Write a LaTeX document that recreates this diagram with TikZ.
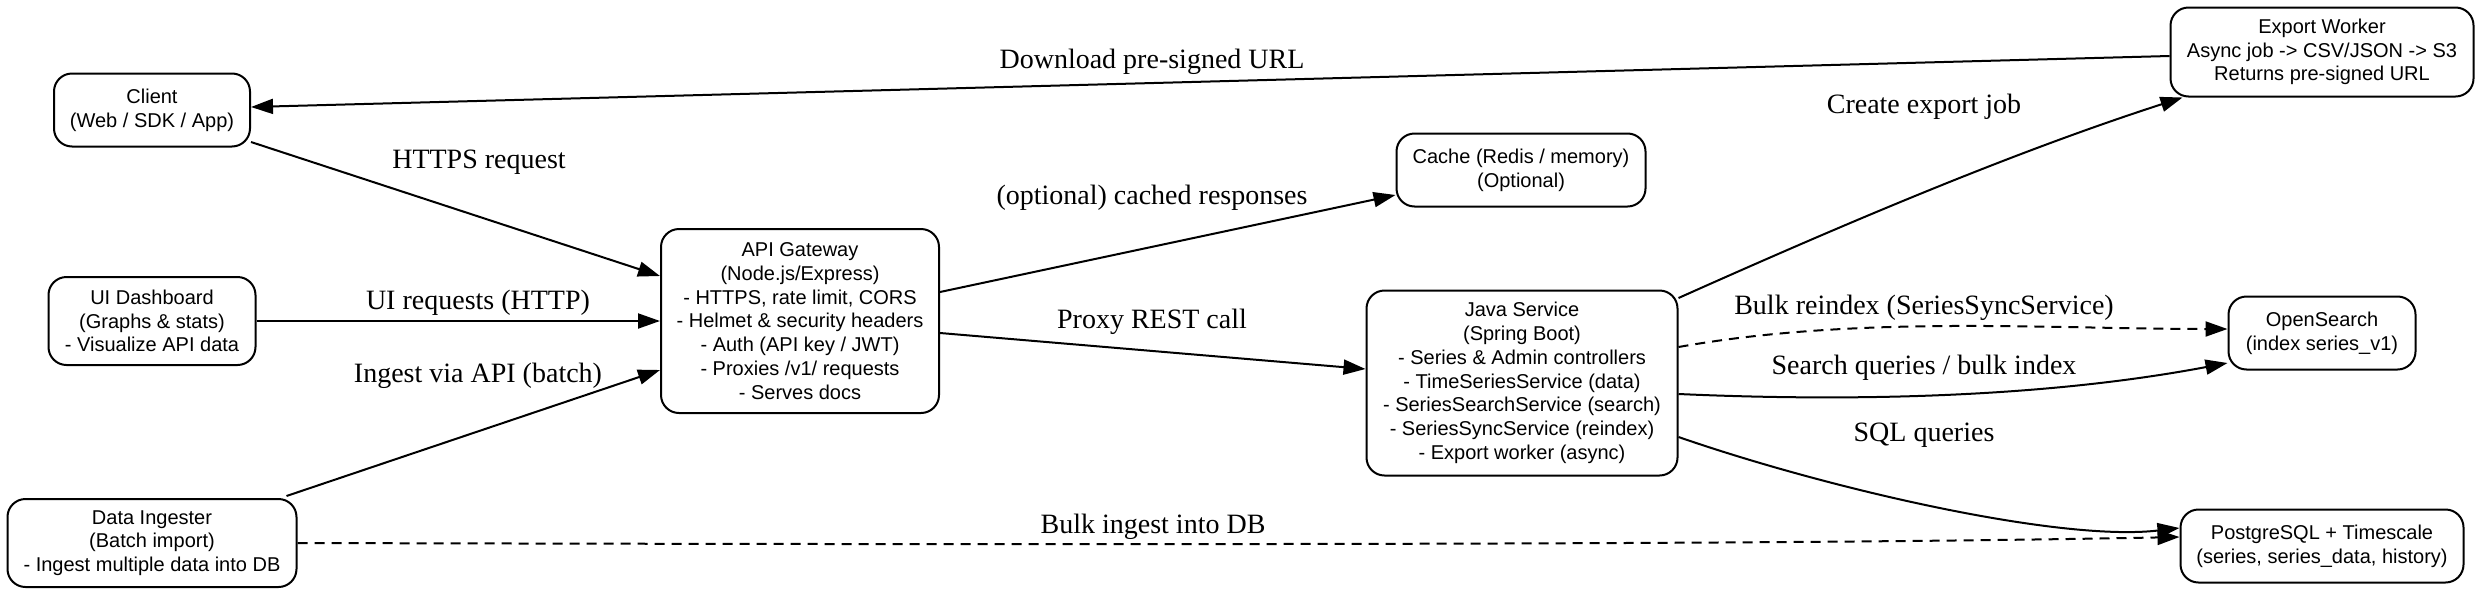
\documentclass[tikz,border=0pt]{standalone}
\usepackage{fontspec}
\setmainfont{Liberation Serif}
\newfontfamily\boxfamily{Liberation Sans}
\usetikzlibrary{arrows.meta}

\tikzset{
  box/.style={draw, line width=1pt, rounded corners=9pt, align=center, inner sep=0pt,
    font=\boxfamily\fontsize{10}{11.9}\selectfont},
  lbl/.style={inner sep=0pt, font=\fontsize{14}{16}\selectfont},
  flow/.style={line width=1pt, -{Triangle[length=11pt,width=7.5pt]}},
  dashflow/.style={flow, dash pattern=on 5pt off 3.5pt},
}

\begin{document}
\begin{tikzpicture}[x=0.5pt, y=-0.5pt]
    \useasboundingbox (0,0) rectangle (2482,595);

    % left column
    \node (client) at (152,110) [box, minimum width=98pt, minimum height=36.5pt] {Client\\(Web / SDK / App)};
    \node (ui) at (152,321) [box, minimum width=103.5pt, minimum height=44pt] {UI Dashboard\\(Graphs \& stats)\\- Visualize API data};
    \node (ingester) at (152,543) [box, minimum width=144.5pt, minimum height=44pt] {Data Ingester\\(Batch import)\\- Ingest multiple data into DB};

    % gateway
    \node (api) at (800,321) [box, minimum width=139pt, minimum height=92pt] {API Gateway\\(Node.js/Express)\\- HTTPS, rate limit, CORS\\- Helmet \& security headers\\- Auth (API key / JWT)\\- Proxies /v1/ requests\\- Serves docs};

    % services
    \node (cache) at (1521,170) [box, minimum width=124.5pt, minimum height=36.5pt] {Cache (Redis / memory)\\(Optional)};
    \node (java) at (1522,383) [box, minimum width=155.5pt, minimum height=92.5pt] {Java Service\\(Spring Boot)\\- Series \& Admin controllers\\- TimeSeriesService (data)\\- SeriesSearchService (search)\\- SeriesSyncService (reindex)\\- Export worker (async)};

    % storage / workers
    \node (export) at (2322,52) [box, minimum width=151.5pt, minimum height=44.5pt] {Export Worker\\Async job -> CSV/JSON -> S3\\Returns pre-signed URL};
    \node (opensearch) at (2322,333) [box, minimum width=93.5pt, minimum height=36.5pt] {OpenSearch\\(index series\_v1)};
    \node (postgres) at (2322,546) [box, minimum width=141.5pt, minimum height=36.5pt] {PostgreSQL + Timescale\\(series, series\_data, history)};

    % edges
    \draw[flow] ([yshift=-2pt]export.west) -- ([yshift=1.5pt]client.east);
    \draw[flow] ([yshift=-16pt]client.east) -- ([yshift=22.5pt]api.west);
    \draw[flow] (ui.east) -- (api.west);
    \draw[flow] ([xshift=-5.5pt, yshift=1pt]ingester.north east) -- ([yshift=-24.5pt]api.west);
    \draw[dashflow] (ingester.east) .. controls +(800,2) and +(-400,8) .. ([yshift=4.5pt]postgres.west);
    \draw[flow] ([yshift=14.5pt]api.east) -- ([yshift=-12.5pt]cache.west);
    \draw[flow] ([yshift=-6pt]api.east) -- ([yshift=7pt]java.west);
    \draw[flow] ([yshift=42.5pt]java.east) .. controls +(170,-76) and +(-170,55) .. ([xshift=6.5pt]export.south west);
    \draw[dashflow] ([yshift=18pt]java.east) .. controls +(180,-32) and +(-180,0) .. ([yshift=2pt]opensearch.west);
    \draw[flow] ([yshift=-5.5pt]java.east) .. controls +(180,8) and +(-180,34) .. ([yshift=-15pt]opensearch.west);
    \draw[flow] ([yshift=-27pt]java.east) .. controls +(150,52) and +(-120,14) .. ([yshift=9pt]postgres.west);

    % edge labels
    \node (l-download) at (1152,62) [lbl] {Download pre-signed URL};
    \node (l-https) at (479,162) [lbl] {HTTPS request};
    \node (l-ui) at (478,303) [lbl] {UI requests (HTTP)};
    \node (l-ingest) at (478,376) [lbl] {Ingest via API (batch)};
    \node (l-bulk) at (1153,527) [lbl] {Bulk ingest into DB};
    \node (l-cache) at (1152,198) [lbl] {(optional) cached responses};
    \node (l-proxy) at (1152,322) [lbl] {Proxy REST call};
    \node (l-export) at (1924,107) [lbl] {Create export job};
    \node (l-reindex) at (1924,308) [lbl] {Bulk reindex (SeriesSyncService)};
    \node (l-search) at (1924,368) [lbl] {Search queries / bulk index};
    \node (l-sql) at (1924,435) [lbl] {SQL queries};
\end{tikzpicture}
\end{document}
